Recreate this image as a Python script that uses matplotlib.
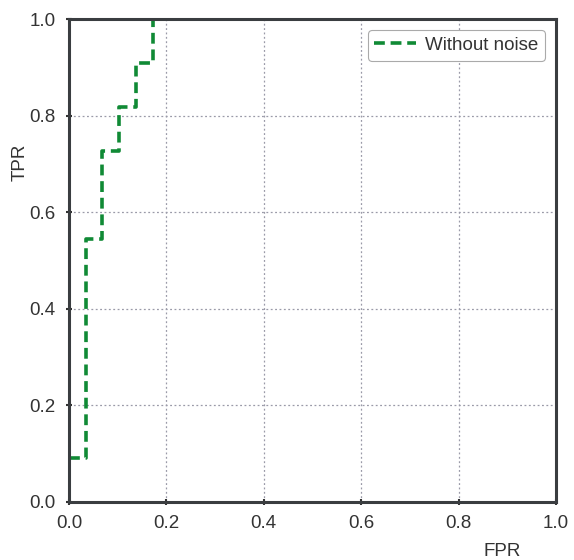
import matplotlib
matplotlib.use('Agg')
import matplotlib.pyplot as plt

plt.rcParams['font.family'] = ['Liberation Sans', 'DejaVu Sans']

# ROC curve points (step function)
fpr = [0.0, 0.034, 0.034, 0.068, 0.068, 0.103, 0.103, 0.138, 0.138, 0.172, 0.172]
tpr = [0.091, 0.091, 0.545, 0.545, 0.727, 0.727, 0.818, 0.818, 0.909, 0.909, 1.0]
ticks = [0.0, 0.2, 0.4, 0.6, 0.8, 1.0]
tick_labels = ['0.0', '0.2', '0.4', '0.6', '0.8', '1.0']

fig = plt.figure(figsize=(5.74, 5.6), dpi=100)
ax = fig.add_axes([69 / 574, 1 - 502 / 560, 487 / 574, 483 / 560])

ax.plot(fpr, tpr, linestyle=(0, (3, 1.6)), color='#108a35', linewidth=2.6,
        label='Without noise')

ax.set_xlim(0, 1)
ax.set_ylim(0, 1)
ax.set_xticks(ticks)
ax.set_yticks(ticks)
ax.set_xticklabels(tick_labels)
ax.set_yticklabels(tick_labels)
ax.tick_params(direction='inout', length=5, width=1.5, color='#333333',
               labelsize=13.5, labelcolor='#333333', pad=7)

ax.grid(True, linestyle=(0, (1.5, 2)), color='#9a9aa8', linewidth=0.9)
for s in ax.spines.values():
    s.set_linewidth(2.2)
    s.set_color('#3a3d40')

fig.text(20 / 574, 1 - 162 / 560, 'TPR', rotation=90, fontsize=13.5,
         color='#333333', ha='center', va='center')
fig.text(502 / 574, 1 - 552 / 560, 'FPR', fontsize=13.5, color='#333333',
         ha='center', va='center')

leg = ax.legend(loc='upper right', fontsize=13.5, handlelength=2.2,
                fancybox=True, framealpha=1, borderaxespad=0.6,
                handletextpad=0.5, borderpad=0.35)
leg.get_frame().set_edgecolor('#aaaaaa')
leg.get_frame().set_linewidth(0.8)
for t in leg.get_texts():
    t.set_color('#333333')

plt.savefig('out.png', dpi=100)
